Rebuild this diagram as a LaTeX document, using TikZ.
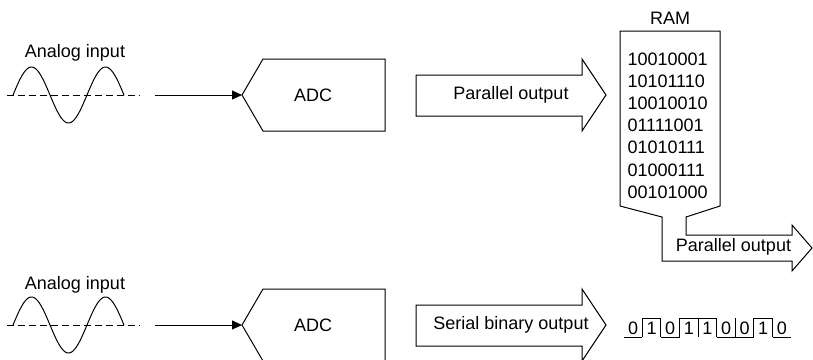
\documentclass[tikz,border=0pt]{standalone}
\usepackage{fontspec}
\setmainfont{Liberation Sans}
\usetikzlibrary{arrows.meta}
\begin{document}
\begin{tikzpicture}[x=1pt,y=-1pt,line width=1pt,line join=miter,
  lbl/.style={font=\fontsize{18}{21.6}\selectfont, inner sep=0pt},
  dashline/.style={dash pattern=on 7pt off 4pt},
  sig/.style={-{Triangle[length=10pt,width=9pt]}},
  fat/.style={draw=black,fill=white}]
\useasboundingbox (0,0) rectangle (813,359);
% ---------- top row ----------
\node[lbl,anchor=base] (ain1) at (75,57) {Analog input};
\draw[dashline] (7,95) -- (140,95);
\draw plot[domain=0:111,samples=100,smooth] ({13+\x},{95-28*sin(\x*4.864865)});
\coordinate (src1) at (155,95);
\coordinate (adc1tip) at (242,95);
\draw[sig] (src1) -- (adc1tip);
\draw[fat] (adc1tip) -- (263,59) -- (385,59) -- (385,131) -- (263,131) -- cycle;
\node[lbl] (adc1) at (313,95) {ADC};
\draw[fat] (416,75) -- (582,75) -- (582,59) -- (606,95) -- (582,131) -- (582,116) -- (416,116) -- cycle;
\node[lbl] (par1) at (511,95) {Parallel output};
% RAM
\node[lbl,anchor=base] (ramlbl) at (670,24) {RAM};
\draw[fat] (620,31) -- (720,31) -- (720,206) -- (686,217) -- (686,235) -- (792,235) -- (792,225)
  -- (812,248) -- (792,271) -- (792,261) -- (662,261) -- (662,217) -- (620,206) -- cycle;
\foreach \t [count=\i] in {10010001,10101110,10010010,01111001,01010111,01000111,00101000}
  \node[lbl,anchor=base west] (ram\i) at (627,{65+22.2*(\i-1)}) {\t};
\node[lbl] (par2) at (733.5,247) {Parallel output};
% ---------- bottom row ----------
\node[lbl,anchor=base] (ain2) at (75,289) {Analog input};
\draw[dashline] (7,325) -- (140,325);
\draw plot[domain=0:111,samples=100,smooth] ({13+\x},{325-28*sin(\x*4.864865)});
\coordinate (src2) at (155,325);
\coordinate (adc2tip) at (242,325);
\draw[sig] (src2) -- (adc2tip);
\draw[fat] (adc2tip) -- (263,289) -- (385,289) -- (385,361) -- (263,361) -- cycle;
\node[lbl] (adc2) at (313,325) {ADC};
\draw[fat] (416,305) -- (582,305) -- (582,289) -- (606,325) -- (582,361) -- (582,346) -- (416,346) -- cycle;
\node[lbl] (ser) at (511,325) {Serial binary output};
% serial bit stream
\def\wx{18.6}
\def\xo{623.7}
\def\hy{318}
\def\ly{337}
\foreach \b [count=\i from 0] in {0,1,0,1,1,0,0,1,0}{
  \pgfmathsetmacro\xa{\xo+\wx*\i}
  \pgfmathsetmacro\xb{\xo+\wx*(\i+1)}
  \pgfmathsetmacro\xm{\xo+\wx*(\i+0.5)}
  \ifnum\b=1
    \draw (\xa,\hy) -- (\xb,\hy);
  \else
    \draw (\xa,\ly) -- (\xb,\ly);
  \fi
  \ifnum\i>0
    \draw (\xa,\ly) -- (\xa,\hy);
  \fi
  \node[lbl,anchor=base] (bit\i) at (\xm,334) {\b};
}
\end{tikzpicture}
\end{document}
